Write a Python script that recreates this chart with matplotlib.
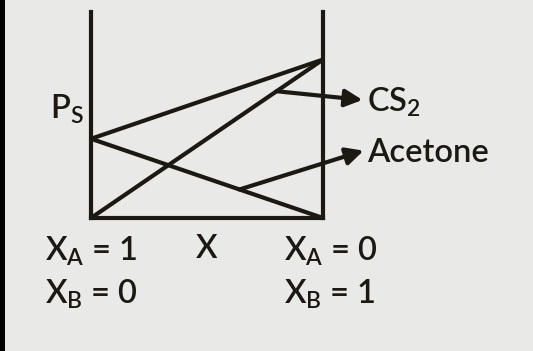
import matplotlib.pyplot as plt
from matplotlib.patches import Rectangle

# mole fraction of CS2 (component B) at the two ends of the diagram
x_b = [0.0, 1.0]
# vapour pressures, arbitrary units (pure acetone = 1)
p_cs2 = [0.0, 2.0]
p_acetone = [1.0, 0.0]
p_total = [1.0, 2.0]
p_top = 2.6

ink = "#1b1912"
plt.rcParams["font.family"] = ["Lato", "DejaVu Sans"]
plt.rcParams["font.weight"] = "semibold"
plt.rcParams["mathtext.fontset"] = "custom"
plt.rcParams["mathtext.rm"] = "Lato:semibold"

fig = plt.figure(figsize=(5.33, 3.51), dpi=100, facecolor="#e9e9e8")
ax = fig.add_axes([91 / 533, 1 - 218 / 351, 232 / 533, 206 / 351])
ax.set_facecolor("none")
ax.set_xlim(0, 1)
ax.set_ylim(0, p_top)
for side in ("left", "right", "bottom"):
    ax.spines[side].set_linewidth(3)
    ax.spines[side].set_color(ink)
ax.spines["top"].set_visible(False)
ax.set_xticks([])
ax.set_yticks([])

lw = 3
ax.plot(x_b, p_total, color=ink, lw=lw, solid_capstyle="round", clip_on=False)
ax.plot(x_b, p_cs2, color=ink, lw=lw, solid_capstyle="round", clip_on=False)
ax.plot(x_b, p_acetone, color=ink, lw=lw, solid_capstyle="round", clip_on=False)

fs = 23.5
arrow = dict(arrowstyle="-|>", lw=3, color=ink, mutation_scale=26, shrinkA=0, shrinkB=0)

# CS2 partial pressure line
x_c = 0.80
ax.annotate("", xy=(1.17, 1.49), xytext=(x_c, p_cs2[1] * x_c), arrowprops=arrow,
            annotation_clip=False)
ax.text(1.19, 1.46, r"CS$_\mathregular{2}$", fontsize=fs, color=ink, va="center",
        ha="left", clip_on=False)

# acetone partial pressure line
x_a = 0.64
ax.annotate("", xy=(1.175, 0.85), xytext=(x_a, p_acetone[0] * (1 - x_a)), arrowprops=arrow,
            annotation_clip=False)
ax.text(1.19, 0.82, "Acetone", fontsize=fs, color=ink, va="center", ha="left",
        clip_on=False)

ax.text(-0.03, 1.26, r"P$_\mathregular{S}$", fontsize=fs, color=ink, ha="right",
        va="baseline", clip_on=False)

ax.text(-0.2, -0.53, r"X$_\mathregular{A}$ = 1", fontsize=fs, color=ink, va="baseline",
        clip_on=False)
ax.text(-0.2, -1.08, r"X$_\mathregular{B}$ = 0", fontsize=fs, color=ink, va="baseline",
        clip_on=False)
ax.text(0.5, -0.5, "X", fontsize=fs, color=ink, ha="center", va="baseline",
        clip_on=False)
ax.text(0.83, -0.53, r"X$_\mathregular{A}$ = 0", fontsize=fs, color=ink, va="baseline",
        clip_on=False)
ax.text(0.83, -1.08, r"X$_\mathregular{B}$ = 1", fontsize=fs, color=ink, va="baseline",
        clip_on=False)

fig.add_artist(Rectangle((0, 0), 5 / 533, 1, transform=fig.transFigure,
                         color="black", lw=0))

fig.savefig("out.png", dpi=100, facecolor=fig.get_facecolor())
